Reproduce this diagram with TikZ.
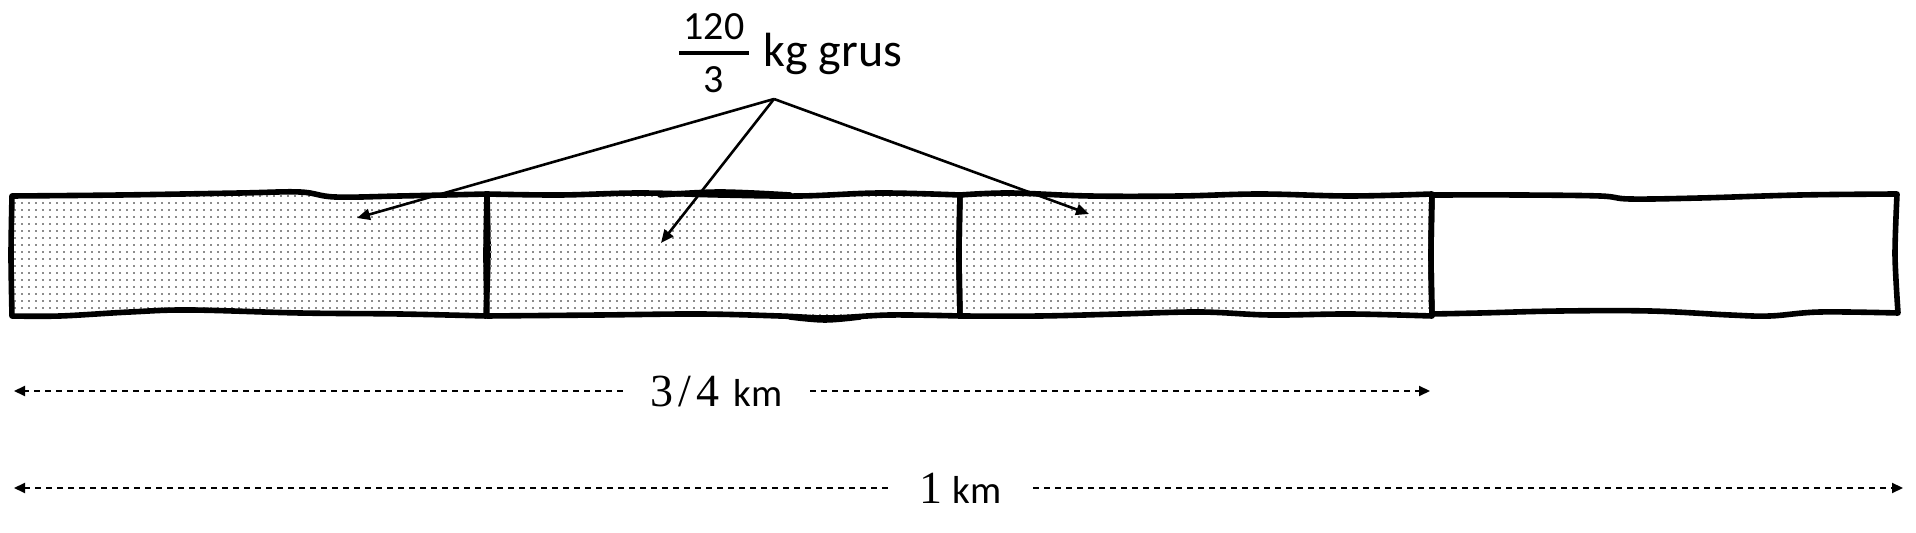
\documentclass[tikz,border=0pt]{standalone}
\usepackage[no-math]{fontspec}
\setmainfont{Carlito}
\newfontfamily\digitfont{Liberation Serif}
\usetikzlibrary{arrows.meta,patterns}
\pgfdeclarepatternformonly{grusdots}{\pgfqpoint{-1pt}{-1pt}}{\pgfqpoint{2.6pt}{2.6pt}}{\pgfqpoint{3.5pt}{3.5pt}}%
  {\pgfpathrectangle{\pgfqpoint{0pt}{0pt}}{\pgfqpoint{1.15pt}{1.15pt}}\pgfusepath{fill}}
\begin{document}
\begin{tikzpicture}[x=0.5pt,y=-0.5pt,
  boxline/.style={line width=2.8pt,line join=round,line cap=round},
  grus/.style={boxline,pattern=grusdots,pattern color=black!45},
  pointer/.style={line width=1.3pt,-{Triangle[length=6.5pt,width=5.5pt]}},
  dimline/.style={line width=1pt,dash pattern=on 3pt off 2.5pt,-{Triangle[length=5.5pt,width=5pt]}},
  dimlabel/.style={inner sep=0pt,text depth=0pt,minimum height=14pt}]
\useasboundingbox (0,0) rectangle (1916,533);

% --- box 1 (gravel) ---
\draw[grus] plot[smooth,tension=.6] coordinates {(12,196) (120,195) (240,193) (300,192) (335,197) (400,196) (487,194)}
  -- plot[smooth] coordinates {(487,194) (488,255) (486,316)}
  -- plot[smooth,tension=.6] coordinates {(486,316) (400,314) (300,313) (190,310) (130,312) (60,316) (12,316)}
  -- plot[smooth] coordinates {(12,316) (11,255) (12,196)} -- cycle;
% --- box 2 (gravel) ---
\draw[grus] plot[smooth,tension=.6] coordinates {(487,194) (560,195) (640,193) (720,195) (800,196) (880,193) (960,195)}
  -- plot[smooth] coordinates {(960,195) (959,255) (960,316)}
  -- plot[smooth,tension=.6] coordinates {(960,316) (890,315) (830,318) (780,316) (700,314) (600,315) (487,316)}
  -- plot[smooth] coordinates {(487,316) (486,255) (487,194)} -- cycle;
\draw[boxline] plot[smooth,tension=.6] coordinates {(660,195) (720,192) (790,195)};
\draw[boxline] plot[smooth,tension=.6] coordinates {(790,317) (825,320) (860,317)};
% --- box 3 (gravel) ---
\draw[grus] plot[smooth,tension=.6] coordinates {(960,195) (1010,193) (1090,196) (1180,196) (1260,194) (1350,196) (1432,194)}
  -- plot[smooth] coordinates {(1432,194) (1431,255) (1432,316)}
  -- plot[smooth,tension=.6] coordinates {(1432,316) (1350,314) (1270,315) (1200,312) (1120,314) (1040,316) (960,316)}
  -- plot[smooth] coordinates {(960,316) (959,255) (960,195)} -- cycle;
% --- box 4 (empty) ---
\draw[boxline] plot[smooth,tension=.6] coordinates {(1432,195) (1520,195) (1600,196) (1630,199) (1700,198) (1800,195) (1897,194)}
  -- plot[smooth] coordinates {(1897,194) (1895,255) (1898,313)}
  -- plot[smooth,tension=.6] coordinates {(1898,313) (1820,312) (1770,316) (1730,315) (1650,311) (1560,311) (1480,313) (1432,314)}
  -- plot[smooth] coordinates {(1432,314) (1431,255) (1432,195)} -- cycle;

% --- label ---
\node[anchor=base,inner sep=0pt,font=\fontsize{20}{20}\selectfont] (num) at (714,40) {120};
\node[anchor=base,inner sep=0pt,font=\fontsize{20}{20}\selectfont] (den) at (714,93) {3};
\draw[line width=2.1pt] (679,53) -- (749,53);
\node[anchor=base west,inner sep=0pt,font=\fontsize{24}{29}\selectfont] (txt) at (763,67) {kg grus};

\coordinate (apex) at (774,99);
\coordinate (tip1) at (357,218);
\coordinate (tip2) at (661,243);
\coordinate (tip3) at (1089,214);
\draw[pointer] (apex) -- (tip1);
\draw[pointer] (apex) -- (tip2);
\draw[pointer] (apex) -- (tip3);

% --- dimension 3/4 km ---
\coordinate (a34) at (14,391);
\coordinate (b34) at (1430,391);
\node[dimlabel,minimum width=93.5pt] (t34) at (716.5,391)
  {{\fontsize{23}{27}\digitfont 3\kern2.5pt/\kern2.5pt4}\hspace{7pt}{\fontsize{19.5}{23}\selectfont km}\hspace{9pt}};
\draw[dimline] (t34) -- (a34);
\draw[dimline] (t34) -- (b34);

% --- dimension 1 km ---
\coordinate (a1) at (14,488);
\coordinate (b1) at (1903,488);
\node[dimlabel,minimum width=72.5pt] (t1) at (960.5,488)
  {{\fontsize{23}{27}\digitfont 1}\hspace{5pt}{\fontsize{19.5}{23}\selectfont km}};
\draw[dimline] (t1) -- (a1);
\draw[dimline] (t1) -- (b1);
\end{tikzpicture}
\end{document}
